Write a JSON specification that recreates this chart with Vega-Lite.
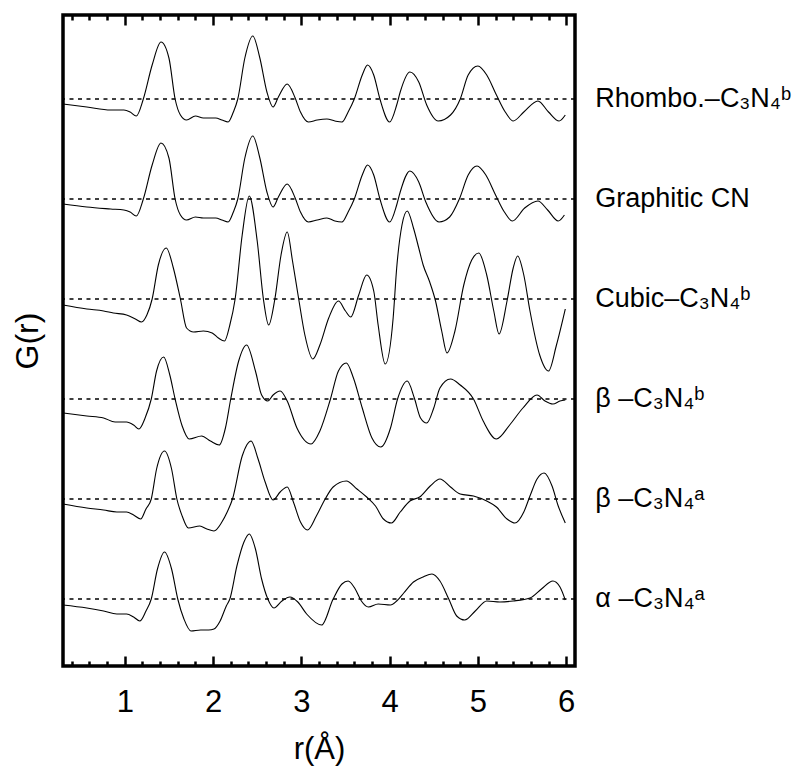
{
"$schema":"https://vega.github.io/schema/vega-lite/v6.json",
"width":512,"height":651,
"autosize":{"type":"none"},
"padding":{"left":63,"top":15,"right":231,"bottom":103},
"config":{"view":{"stroke":"black","strokeWidth":3.5},"font":"Liberation Sans","axis":{"domain":false,"grid":false,"tickColor":"black","labelColor":"black","titleColor":"black","titleFontWeight":"normal","labelFont":"Liberation Sans","titleFont":"Liberation Sans"}},
"datasets":{
"base":[{"g":50},{"g":40},{"g":30},{"g":20},{"g":10},{"g":0}],
"labels":[
{"r":6.33,"g":50,"t":"Rhombo.–C₃N₄ᵇ"},
{"r":6.33,"g":40,"t":"Graphitic CN"},
{"r":6.33,"g":30,"t":"Cubic–C₃N₄ᵇ"},
{"r":6.33,"g":20,"t":"β –C₃N₄ᵇ"},
{"r":6.33,"g":10,"t":"β –C₃N₄ᵃ"},
{"r":6.33,"g":0,"t":"α –C₃N₄ᵃ"}],
"curves":[
{"s":"R","r":0.30,"g":49.5},{"s":"R","r":0.57,"g":49.2},{"s":"R","r":0.84,"g":48.9},{"s":"R","r":0.99,"g":48.9},{"s":"R","r":1.06,"g":48.7},{"s":"R","r":1.13,"g":48.3},{"s":"R","r":1.21,"g":50.0},{"s":"R","r":1.31,"g":53.4},{"s":"R","r":1.41,"g":55.7},{"s":"R","r":1.50,"g":54.1},{"s":"R","r":1.57,"g":50.0},{"s":"R","r":1.63,"g":48.4},{"s":"R","r":1.70,"g":47.9},{"s":"R","r":1.80,"g":48.3},{"s":"R","r":1.89,"g":48.1},{"s":"R","r":2.03,"g":48.1},{"s":"R","r":2.10,"g":47.9},{"s":"R","r":2.17,"g":47.7},{"s":"R","r":2.23,"g":48.7},{"s":"R","r":2.28,"g":50.0},{"s":"R","r":2.36,"g":54.1},{"s":"R","r":2.45,"g":56.3},{"s":"R","r":2.53,"g":54.1},{"s":"R","r":2.61,"g":50.7},{"s":"R","r":2.68,"g":49.2},{"s":"R","r":2.74,"g":50.2},{"s":"R","r":2.84,"g":51.5},{"s":"R","r":2.93,"g":50.1},{"s":"R","r":2.99,"g":48.7},{"s":"R","r":3.08,"g":47.7},{"s":"R","r":3.18,"g":47.9},{"s":"R","r":3.29,"g":48.0},{"s":"R","r":3.38,"g":47.8},{"s":"R","r":3.46,"g":47.7},{"s":"R","r":3.53,"g":48.7},{"s":"R","r":3.60,"g":50.0},{"s":"R","r":3.69,"g":52.4},{"s":"R","r":3.75,"g":53.4},{"s":"R","r":3.82,"g":52.4},{"s":"R","r":3.89,"g":50.0},{"s":"R","r":4.00,"g":47.7},{"s":"R","r":4.08,"g":49.4},{"s":"R","r":4.12,"g":50.7},{"s":"R","r":4.23,"g":52.7},{"s":"R","r":4.33,"g":51.7},{"s":"R","r":4.42,"g":49.4},{"s":"R","r":4.55,"g":47.8},{"s":"R","r":4.69,"g":48.4},{"s":"R","r":4.80,"g":50.0},{"s":"R","r":4.89,"g":52.4},{"s":"R","r":5.00,"g":53.3},{"s":"R","r":5.10,"g":52.4},{"s":"R","r":5.21,"g":50.4},{"s":"R","r":5.31,"g":48.7},{"s":"R","r":5.40,"g":47.8},{"s":"R","r":5.52,"g":48.7},{"s":"R","r":5.68,"g":49.8},{"s":"R","r":5.80,"g":48.7},{"s":"R","r":5.92,"g":47.8},{"s":"R","r":5.99,"g":48.4},
{"s":"G","r":0.30,"g":39.5},{"s":"G","r":0.57,"g":39.2},{"s":"G","r":0.84,"g":39.0},{"s":"G","r":0.99,"g":38.9},{"s":"G","r":1.06,"g":38.7},{"s":"G","r":1.13,"g":38.3},{"s":"G","r":1.21,"g":40.0},{"s":"G","r":1.31,"g":43.4},{"s":"G","r":1.41,"g":45.6},{"s":"G","r":1.50,"g":44.1},{"s":"G","r":1.57,"g":40.0},{"s":"G","r":1.63,"g":38.4},{"s":"G","r":1.70,"g":37.9},{"s":"G","r":1.80,"g":38.2},{"s":"G","r":1.89,"g":38.1},{"s":"G","r":2.03,"g":38.1},{"s":"G","r":2.10,"g":37.9},{"s":"G","r":2.17,"g":37.7},{"s":"G","r":2.23,"g":38.7},{"s":"G","r":2.28,"g":40.0},{"s":"G","r":2.36,"g":44.1},{"s":"G","r":2.45,"g":46.3},{"s":"G","r":2.53,"g":44.1},{"s":"G","r":2.61,"g":40.7},{"s":"G","r":2.68,"g":39.2},{"s":"G","r":2.74,"g":40.2},{"s":"G","r":2.84,"g":41.5},{"s":"G","r":2.93,"g":40.1},{"s":"G","r":2.99,"g":38.7},{"s":"G","r":3.08,"g":37.7},{"s":"G","r":3.18,"g":37.9},{"s":"G","r":3.29,"g":38.1},{"s":"G","r":3.38,"g":37.8},{"s":"G","r":3.46,"g":37.7},{"s":"G","r":3.53,"g":38.7},{"s":"G","r":3.60,"g":40.0},{"s":"G","r":3.69,"g":42.4},{"s":"G","r":3.75,"g":43.4},{"s":"G","r":3.82,"g":42.4},{"s":"G","r":3.89,"g":40.0},{"s":"G","r":4.00,"g":37.7},{"s":"G","r":4.08,"g":39.4},{"s":"G","r":4.12,"g":40.7},{"s":"G","r":4.23,"g":42.8},{"s":"G","r":4.33,"g":41.7},{"s":"G","r":4.41,"g":39.7},{"s":"G","r":4.56,"g":37.7},{"s":"G","r":4.68,"g":38.2},{"s":"G","r":4.79,"g":40.0},{"s":"G","r":4.89,"g":42.4},{"s":"G","r":4.99,"g":43.3},{"s":"G","r":5.09,"g":42.4},{"s":"G","r":5.20,"g":40.4},{"s":"G","r":5.30,"g":38.7},{"s":"G","r":5.39,"g":37.8},{"s":"G","r":5.53,"g":39.1},{"s":"G","r":5.68,"g":39.8},{"s":"G","r":5.79,"g":38.9},{"s":"G","r":5.91,"g":37.8},{"s":"G","r":5.98,"g":38.4},
{"s":"C","r":0.30,"g":29.4},{"s":"C","r":0.57,"g":29.0},{"s":"C","r":0.76,"g":28.8},{"s":"C","r":0.87,"g":28.6},{"s":"C","r":1.02,"g":28.4},{"s":"C","r":1.12,"g":28.0},{"s":"C","r":1.19,"g":27.7},{"s":"C","r":1.25,"g":28.4},{"s":"C","r":1.31,"g":30.0},{"s":"C","r":1.38,"g":33.4},{"s":"C","r":1.47,"g":35.1},{"s":"C","r":1.55,"g":33.1},{"s":"C","r":1.63,"g":30.0},{"s":"C","r":1.70,"g":27.1},{"s":"C","r":1.78,"g":26.7},{"s":"C","r":1.89,"g":26.8},{"s":"C","r":1.99,"g":26.6},{"s":"C","r":2.06,"g":26.1},{"s":"C","r":2.13,"g":25.8},{"s":"C","r":2.19,"g":27.4},{"s":"C","r":2.25,"g":30.0},{"s":"C","r":2.33,"g":36.4},{"s":"C","r":2.41,"g":40.3},{"s":"C","r":2.50,"g":35.8},{"s":"C","r":2.57,"g":30.0},{"s":"C","r":2.63,"g":27.4},{"s":"C","r":2.70,"g":30.0},{"s":"C","r":2.77,"g":34.4},{"s":"C","r":2.84,"g":36.7},{"s":"C","r":2.90,"g":33.8},{"s":"C","r":2.97,"g":30.0},{"s":"C","r":3.04,"g":26.4},{"s":"C","r":3.13,"g":24.0},{"s":"C","r":3.21,"g":25.4},{"s":"C","r":3.31,"g":28.1},{"s":"C","r":3.42,"g":29.8},{"s":"C","r":3.50,"g":28.8},{"s":"C","r":3.56,"g":28.2},{"s":"C","r":3.65,"g":30.4},{"s":"C","r":3.74,"g":32.4},{"s":"C","r":3.82,"g":30.8},{"s":"C","r":3.87,"g":27.4},{"s":"C","r":3.95,"g":23.5},{"s":"C","r":4.04,"g":28.1},{"s":"C","r":4.08,"g":33.1},{"s":"C","r":4.14,"g":37.4},{"s":"C","r":4.20,"g":38.8},{"s":"C","r":4.27,"g":37.1},{"s":"C","r":4.33,"g":35.1},{"s":"C","r":4.38,"g":33.4},{"s":"C","r":4.45,"g":31.8},{"s":"C","r":4.52,"g":29.8},{"s":"C","r":4.59,"g":26.8},{"s":"C","r":4.65,"g":24.6},{"s":"C","r":4.74,"g":26.8},{"s":"C","r":4.84,"g":31.4},{"s":"C","r":4.93,"g":33.9},{"s":"C","r":5.01,"g":34.6},{"s":"C","r":5.10,"g":32.4},{"s":"C","r":5.18,"g":28.8},{"s":"C","r":5.24,"g":26.5},{"s":"C","r":5.33,"g":29.8},{"s":"C","r":5.40,"g":33.1},{"s":"C","r":5.45,"g":34.3},{"s":"C","r":5.52,"g":32.4},{"s":"C","r":5.59,"g":28.8},{"s":"C","r":5.70,"g":24.4},{"s":"C","r":5.80,"g":22.8},{"s":"C","r":5.89,"g":25.4},{"s":"C","r":5.99,"g":29.0},
{"s":"Bb","r":0.30,"g":18.6},{"s":"Bb","r":0.57,"g":18.3},{"s":"Bb","r":0.76,"g":18.1},{"s":"Bb","r":0.89,"g":17.7},{"s":"Bb","r":1.02,"g":17.7},{"s":"Bb","r":1.10,"g":17.4},{"s":"Bb","r":1.16,"g":17.0},{"s":"Bb","r":1.23,"g":18.1},{"s":"Bb","r":1.30,"g":20.0},{"s":"Bb","r":1.36,"g":22.8},{"s":"Bb","r":1.44,"g":24.2},{"s":"Bb","r":1.51,"g":22.4},{"s":"Bb","r":1.57,"g":20.0},{"s":"Bb","r":1.65,"g":17.3},{"s":"Bb","r":1.73,"g":16.0},{"s":"Bb","r":1.87,"g":16.3},{"s":"Bb","r":1.97,"g":15.8},{"s":"Bb","r":2.07,"g":15.4},{"s":"Bb","r":2.14,"g":17.1},{"s":"Bb","r":2.20,"g":20.0},{"s":"Bb","r":2.29,"g":23.8},{"s":"Bb","r":2.38,"g":25.4},{"s":"Bb","r":2.48,"g":22.8},{"s":"Bb","r":2.55,"g":20.4},{"s":"Bb","r":2.62,"g":19.8},{"s":"Bb","r":2.68,"g":20.4},{"s":"Bb","r":2.76,"g":20.8},{"s":"Bb","r":2.84,"g":19.8},{"s":"Bb","r":2.95,"g":17.1},{"s":"Bb","r":3.11,"g":15.5},{"s":"Bb","r":3.21,"g":16.8},{"s":"Bb","r":3.33,"g":20.0},{"s":"Bb","r":3.42,"g":22.8},{"s":"Bb","r":3.51,"g":23.6},{"s":"Bb","r":3.59,"g":22.1},{"s":"Bb","r":3.69,"g":19.1},{"s":"Bb","r":3.80,"g":16.1},{"s":"Bb","r":3.90,"g":15.2},{"s":"Bb","r":4.01,"g":17.1},{"s":"Bb","r":4.09,"g":20.0},{"s":"Bb","r":4.20,"g":21.8},{"s":"Bb","r":4.28,"g":20.1},{"s":"Bb","r":4.35,"g":18.1},{"s":"Bb","r":4.42,"g":17.6},{"s":"Bb","r":4.50,"g":19.1},{"s":"Bb","r":4.57,"g":21.1},{"s":"Bb","r":4.69,"g":22.0},{"s":"Bb","r":4.80,"g":21.4},{"s":"Bb","r":4.95,"g":20.0},{"s":"Bb","r":5.06,"g":17.8},{"s":"Bb","r":5.21,"g":16.0},{"s":"Bb","r":5.36,"g":17.4},{"s":"Bb","r":5.51,"g":19.1},{"s":"Bb","r":5.67,"g":20.4},{"s":"Bb","r":5.76,"g":19.8},{"s":"Bb","r":5.85,"g":19.5},{"s":"Bb","r":5.93,"g":19.8},{"s":"Bb","r":5.99,"g":19.9},
{"s":"Ba","r":0.30,"g":9.5},{"s":"Ba","r":0.57,"g":9.1},{"s":"Ba","r":0.76,"g":8.9},{"s":"Ba","r":0.91,"g":8.7},{"s":"Ba","r":1.02,"g":8.7},{"s":"Ba","r":1.10,"g":8.4},{"s":"Ba","r":1.18,"g":8.0},{"s":"Ba","r":1.24,"g":9.0},{"s":"Ba","r":1.30,"g":10.0},{"s":"Ba","r":1.36,"g":13.0},{"s":"Ba","r":1.45,"g":14.8},{"s":"Ba","r":1.53,"g":13.0},{"s":"Ba","r":1.59,"g":10.0},{"s":"Ba","r":1.65,"g":8.3},{"s":"Ba","r":1.72,"g":7.1},{"s":"Ba","r":1.85,"g":7.3},{"s":"Ba","r":1.93,"g":7.0},{"s":"Ba","r":2.01,"g":6.8},{"s":"Ba","r":2.10,"g":7.7},{"s":"Ba","r":2.16,"g":8.7},{"s":"Ba","r":2.22,"g":10.0},{"s":"Ba","r":2.33,"g":14.3},{"s":"Ba","r":2.43,"g":15.8},{"s":"Ba","r":2.51,"g":14.0},{"s":"Ba","r":2.59,"g":11.7},{"s":"Ba","r":2.68,"g":9.9},{"s":"Ba","r":2.76,"g":10.7},{"s":"Ba","r":2.84,"g":11.2},{"s":"Ba","r":2.91,"g":9.7},{"s":"Ba","r":2.99,"g":7.7},{"s":"Ba","r":3.07,"g":6.9},{"s":"Ba","r":3.17,"g":8.3},{"s":"Ba","r":3.27,"g":10.0},{"s":"Ba","r":3.36,"g":11.2},{"s":"Ba","r":3.51,"g":11.8},{"s":"Ba","r":3.63,"g":11.0},{"s":"Ba","r":3.74,"g":10.2},{"s":"Ba","r":3.84,"g":9.3},{"s":"Ba","r":3.93,"g":8.0},{"s":"Ba","r":4.02,"g":7.6},{"s":"Ba","r":4.12,"g":8.7},{"s":"Ba","r":4.23,"g":9.8},{"s":"Ba","r":4.34,"g":10.2},{"s":"Ba","r":4.46,"g":11.3},{"s":"Ba","r":4.57,"g":12.0},{"s":"Ba","r":4.69,"g":11.2},{"s":"Ba","r":4.80,"g":10.5},{"s":"Ba","r":4.95,"g":10.3},{"s":"Ba","r":5.10,"g":9.8},{"s":"Ba","r":5.21,"g":9.2},{"s":"Ba","r":5.33,"g":8.0},{"s":"Ba","r":5.42,"g":7.6},{"s":"Ba","r":5.52,"g":8.7},{"s":"Ba","r":5.59,"g":10.3},{"s":"Ba","r":5.67,"g":12.0},{"s":"Ba","r":5.75,"g":12.6},{"s":"Ba","r":5.84,"g":11.3},{"s":"Ba","r":5.91,"g":9.3},{"s":"Ba","r":5.99,"g":7.6},
{"s":"A","r":0.30,"g":-0.6},{"s":"A","r":0.57,"g":-0.9},{"s":"A","r":0.76,"g":-1.2},{"s":"A","r":0.91,"g":-1.5},{"s":"A","r":1.02,"g":-1.5},{"s":"A","r":1.10,"g":-1.8},{"s":"A","r":1.17,"g":-2.2},{"s":"A","r":1.24,"g":-1.2},{"s":"A","r":1.30,"g":0.0},{"s":"A","r":1.37,"g":3.0},{"s":"A","r":1.45,"g":4.7},{"s":"A","r":1.53,"g":3.0},{"s":"A","r":1.60,"g":0.0},{"s":"A","r":1.67,"g":-2.0},{"s":"A","r":1.75,"g":-3.2},{"s":"A","r":1.86,"g":-3.1},{"s":"A","r":1.95,"g":-3.1},{"s":"A","r":2.01,"g":-3.0},{"s":"A","r":2.08,"g":-2.2},{"s":"A","r":2.15,"g":-0.7},{"s":"A","r":2.19,"g":0.0},{"s":"A","r":2.27,"g":3.3},{"s":"A","r":2.35,"g":5.7},{"s":"A","r":2.41,"g":6.5},{"s":"A","r":2.48,"g":5.0},{"s":"A","r":2.55,"g":2.0},{"s":"A","r":2.62,"g":0.0},{"s":"A","r":2.69,"g":-0.9},{"s":"A","r":2.78,"g":-0.2},{"s":"A","r":2.87,"g":0.2},{"s":"A","r":2.96,"g":-0.3},{"s":"A","r":3.06,"g":-1.5},{"s":"A","r":3.23,"g":-2.6},{"s":"A","r":3.36,"g":0.0},{"s":"A","r":3.46,"g":1.5},{"s":"A","r":3.53,"g":1.8},{"s":"A","r":3.61,"g":1.0},{"s":"A","r":3.68,"g":-0.2},{"s":"A","r":3.76,"g":-0.8},{"s":"A","r":3.87,"g":-0.5},{"s":"A","r":4.01,"g":-0.6},{"s":"A","r":4.08,"g":-0.2},{"s":"A","r":4.16,"g":0.6},{"s":"A","r":4.27,"g":1.7},{"s":"A","r":4.38,"g":2.2},{"s":"A","r":4.48,"g":2.5},{"s":"A","r":4.57,"g":1.8},{"s":"A","r":4.67,"g":0.0},{"s":"A","r":4.76,"g":-1.7},{"s":"A","r":4.85,"g":-2.1},{"s":"A","r":4.97,"g":-1.2},{"s":"A","r":5.10,"g":-0.2},{"s":"A","r":5.25,"g":-0.3},{"s":"A","r":5.40,"g":-0.2},{"s":"A","r":5.59,"g":0.1},{"s":"A","r":5.72,"g":1.0},{"s":"A","r":5.85,"g":1.8},{"s":"A","r":5.93,"g":1.2},{"s":"A","r":5.99,"g":-0.1}
]},
"layer":[
{"data":{"name":"base"},"mark":{"type":"rule","stroke":"black","strokeWidth":1.5,"strokeDash":[4,4.5]},
 "encoding":{"y":{"field":"g","type":"quantitative","scale":{"domain":[-6.7,58.4],"nice":false,"zero":false},
  "axis":{"title":"G(r)","labels":false,"ticks":false,"domain":false,"grid":false,"titleFontSize":32,"titlePadding":19}}}},
{"data":{"name":"curves"},"mark":{"type":"line","stroke":"black","strokeWidth":1.1,"interpolate":"monotone"},
 "encoding":{"x":{"field":"r","type":"quantitative","scale":{"domain":[0.3,6.1],"nice":false,"zero":false},
  "axis":{"orient":"bottom","values":[0.4,0.6,0.8,1,1.2,1.4,1.6,1.8,2,2.2,2.4,2.6,2.8,3,3.2,3.4,3.6,3.8,4,4.2,4.4,4.6,4.8,5,5.2,5.4,5.6,5.8,6],
   "tickWidth":2.5,"tickSize":{"condition":{"test":"abs(datum.value-round(datum.value))<0.01","value":-10},"value":-5},
   "labelExpr":"abs(datum.value-round(datum.value))<0.01 ? toString(round(datum.value)) : ''",
   "labelOverlap":false,"labelFlush":false,"labelFontSize":31,"labelPadding":31,
   "title":"r(Å)","titleFontSize":31,"titlePadding":12}},
  "y":{"field":"g","type":"quantitative","axis":null},
  "detail":{"field":"s"}}},
{"data":{"name":"labels"},"mark":{"type":"text","align":"left","baseline":"middle","fontSize":27,"font":"Liberation Sans","color":"black","clip":false},
 "encoding":{"x":{"field":"r","type":"quantitative",
  "axis":{"orient":"top","values":[0.4,0.6,0.8,1,1.2,1.4,1.6,1.8,2,2.2,2.4,2.6,2.8,3,3.2,3.4,3.6,3.8,4,4.2,4.4,4.6,4.8,5,5.2,5.4,5.6,5.8,6],
   "tickWidth":2.5,"tickSize":{"condition":{"test":"abs(datum.value-round(datum.value))<0.01","value":-10},"value":-5},
   "labels":false,"title":null}},
  "y":{"field":"g","type":"quantitative","axis":null},
  "text":{"field":"t"}}}
],
"resolve":{"axis":{"x":"independent","y":"independent"}}
}
